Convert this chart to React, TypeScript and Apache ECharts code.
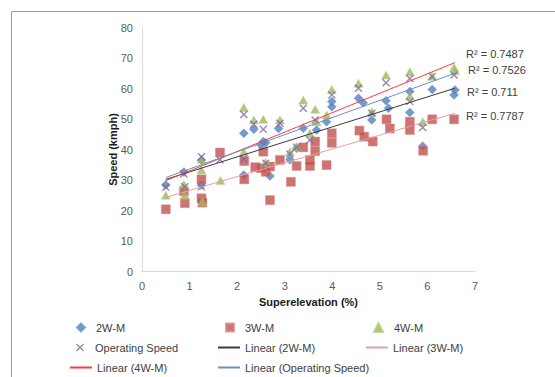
import React, { useEffect, useRef } from "react";
import * as echarts from "echarts";

// ---------- data ----------
const scatterNames = ["2W-M", "3W-M", "4W-M", "Operating Speed"];
const trendNames = ["Linear (2W-M)", "Linear (3W-M)", "Linear (4W-M)", "Linear (Operating Speed)"];

const twoW: number[][] = [
  [0.5, 28.4], [0.88, 32.6], [1.25, 36.5], [1.25, 28.3], [2.14, 45.3], [2.14, 31.6],
  [2.35, 46.6], [2.55, 42.6], [2.5, 41.5], [2.6, 42.2], [2.69, 31.3], [2.87, 46.9],
  [3.11, 36.6], [3.25, 40.4], [3.39, 47.0], [3.67, 46.4], [3.88, 49.1], [3.99, 55.7],
  [3.99, 54.0], [4.55, 56.8], [4.65, 55.3], [4.83, 49.7], [5.13, 56.0], [5.18, 53.5],
  [5.63, 59.0], [5.63, 52.1], [5.9, 41.1], [6.1, 59.7], [6.56, 57.9], [6.58, 59.5],
];
const threeW: number[][] = [
  [0.5, 20.4], [0.88, 26.3], [0.9, 22.4], [1.25, 30.2], [1.25, 24.0], [1.27, 22.6],
  [1.64, 39.0], [2.15, 36.2], [2.15, 30.2], [2.38, 34.2], [2.55, 39.3], [2.5, 33.9],
  [2.6, 32.7], [2.69, 23.4], [2.69, 34.4], [2.9, 36.6], [3.13, 29.4], [3.25, 34.6],
  [3.39, 40.7], [3.53, 36.6], [3.53, 34.6], [3.64, 42.6], [3.64, 39.5], [3.88, 34.9],
  [3.99, 45.3], [3.99, 42.2], [4.57, 46.2], [4.67, 44.2], [4.85, 42.6], [5.14, 49.9],
  [5.21, 46.9], [5.63, 49.1], [5.63, 46.4], [5.91, 39.6], [6.1, 49.9], [6.56, 49.9],
];
const fourW: number[][] = [
  [0.5, 25.0], [0.88, 28.5], [0.9, 25.0], [1.25, 36.8], [1.25, 33.3], [1.27, 22.9],
  [1.65, 29.8], [2.14, 53.8], [2.14, 39.3], [2.35, 49.7], [2.55, 49.9], [2.6, 35.8],
  [2.9, 49.7], [3.11, 39.3], [3.25, 41.0], [3.39, 56.2], [3.53, 45.3], [3.64, 53.2],
  [3.67, 49.1], [3.88, 51.3], [3.99, 59.7], [4.55, 61.7], [4.83, 52.4], [5.13, 64.4],
  [5.63, 65.5], [5.63, 57.5], [5.9, 49.1], [6.1, 64.0], [6.56, 66.9], [6.58, 65.8],
];
const opSpeed: number[][] = [
  [0.5, 27.6], [0.88, 32.0], [0.9, 27.8], [1.25, 37.6], [1.25, 27.8], [1.64, 36.6],
  [2.14, 51.5], [2.14, 36.9], [2.35, 48.3], [2.55, 46.6], [2.6, 35.5], [2.9, 48.6],
  [3.11, 38.5], [3.25, 40.7], [3.39, 53.5], [3.53, 43.1], [3.64, 49.7], [3.99, 57.9],
  [4.55, 60.1], [4.83, 51.9], [5.13, 61.9], [5.63, 63.3], [5.63, 55.7], [5.9, 47.2],
  [6.1, 63.9], [6.56, 64.4],
];

// trend line end points (x from 0.5 to 6.58)
const trend2W: number[][] = [[0.5, 30.2], [6.58, 60.1]];
const trend3W: number[][] = [[0.5, 24.3], [6.58, 51.9]];
const trend4W: number[][] = [[0.5, 29.8], [6.58, 68.5]];
const trendOp: number[][] = [[0.5, 30.8], [6.58, 65.0]];

const r2Labels = ["R² = 0.711", "R² = 0.7787", "R² = 0.7487", "R² = 0.7526"];

// ---------- styles ----------
const FONT = "Liberation Sans";
const TXT = "#404040";
const C2W = "#3a3a3a";
const C3W = "#e8a0a0";
const C4W = "#ff3b3b";
const COP = "#6d8fc8";
const cross =
  "path://M0,1.2 L1.2,0 L5,3.8 L8.8,0 L10,1.2 L6.2,5 L10,8.8 L8.8,10 L5,6.2 L1.2,10 L0,8.8 L3.8,5 Z";

export default function App() {
  const ref = useRef<HTMLDivElement>(null);

  useEffect(() => {
    if (!ref.current) return;
    const chart = echarts.init(ref.current, null, { renderer: "svg" });

    // legend for a marker series: square icon, text pushed right
    const markerLegend = (name: string, left: number, top: number, size: number) => ({
      data: [name],
      left,
      top,
      padding: 0,
      itemWidth: size,
      itemHeight: size,
      selectedMode: false,
      textStyle: { fontFamily: FONT, fontSize: 11, color: TXT, padding: [0, 0, 0, 6] },
    });
    // legend for a trend line: the series' own line icon, its dot hidden
    const lineLegend = (name: string, left: number, top: number) => ({
      data: [name],
      left,
      top,
      padding: 0,
      itemWidth: 22,
      itemHeight: 8,
      itemStyle: { opacity: 0 },
      selectedMode: false,
      textStyle: { fontFamily: FONT, fontSize: 11, color: TXT },
    });

    const trend = (
      name: string,
      data: number[][],
      color: string,
      label: string,
      offset: number[]
    ) => ({
      name,
      type: "line",
      data,
      symbol: "none",
      showSymbol: false,
      lineStyle: { color, width: 1 },
      itemStyle: { color },
      z: 5,
      endLabel: {
        show: true,
        formatter: label,
        offset,
        fontFamily: FONT,
        fontSize: 11,
        color: TXT,
      },
    });

    chart.setOption({
      animation: false,
      backgroundColor: "#ffffff",
      textStyle: { fontFamily: FONT },
      graphic: [
        {
          type: "rect",
          shape: { x: 11.5, y: 11.5, width: 700, height: 500 },
          style: { fill: "none", stroke: "#9a9a9a", lineWidth: 1 },
          silent: true,
        },
      ],
      grid: { left: 142, top: 27.5, width: 333, height: 244 },
      xAxis: {
        type: "value",
        min: 0,
        max: 7,
        interval: 1,
        name: "Superelevation (%)",
        nameLocation: "middle",
        nameGap: 25,
        nameMoveOverlap: false,
        nameTextStyle: { fontFamily: FONT, fontSize: 11, fontWeight: "bold", color: "#1a1a1a" },
        axisLine: { show: true, lineStyle: { color: "#d9d9d9", width: 1 } },
        axisTick: { show: false },
        splitLine: { show: false },
        axisLabel: { fontFamily: FONT, fontSize: 11, color: "#595959", margin: 9 },
      },
      yAxis: {
        type: "value",
        min: 0,
        max: 80,
        interval: 10,
        name: "Speed (kmph)",
        nameLocation: "middle",
        nameGap: 24,
        nameMoveOverlap: false,
        nameTextStyle: { fontFamily: FONT, fontSize: 11, fontWeight: "bold", color: "#1a1a1a" },
        axisLine: { show: true, lineStyle: { color: "#d9d9d9", width: 1 } },
        axisTick: { show: false },
        splitLine: { show: false },
        axisLabel: { fontFamily: FONT, fontSize: 11, color: "#595959", margin: 9 },
      },
      legend: [
        markerLegend(scatterNames[0], 76, 322, 8),
        markerLegend(scatterNames[1], 225, 322, 8),
        markerLegend(scatterNames[2], 373, 322, 9),
        markerLegend(scatterNames[3], 76, 342, 8),
        lineLegend(trendNames[0], 217, 342),
        lineLegend(trendNames[1], 365, 342),
        lineLegend(trendNames[2], 69, 362),
        lineLegend(trendNames[3], 217, 362),
      ],
      series: [
        {
          name: scatterNames[0],
          type: "scatter",
          data: twoW,
          symbol: "diamond",
          symbolSize: 9,
          itemStyle: { color: "#4f81bd", borderColor: "#6d97cc", borderWidth: 0.5 },
          z: 2,
        },
        {
          name: scatterNames[1],
          type: "scatter",
          data: threeW,
          symbol: "rect",
          symbolSize: 9,
          itemStyle: { color: "#c0504d", borderColor: "#d98a88", borderWidth: 0.6 },
          z: 2,
        },
        {
          name: scatterNames[2],
          type: "scatter",
          data: fourW,
          symbol: "triangle",
          symbolSize: [9, 8],
          itemStyle: { color: "#9bbb59", borderColor: "#b3cd7e", borderWidth: 0.5 },
          z: 2,
        },
        {
          name: scatterNames[3],
          type: "scatter",
          data: opSpeed,
          symbol: cross,
          symbolSize: 8,
          itemStyle: { color: "#8064a2" },
          z: 3,
        },
        trend(trendNames[0], trend2W, C2W, r2Labels[0], [4, 4]),
        trend(trendNames[1], trend3W, C3W, r2Labels[1], [3, 3]),
        trend(trendNames[2], trend4W, C4W, r2Labels[2], [3, -9]),
        trend(trendNames[3], trendOp, COP, r2Labels[3], [5, -3]),
      ],
    });

    return () => chart.dispose();
  }, []);

  return (
    <div
      ref={ref}
      style={{ position: "fixed", left: 0, top: 0, width: 555, height: 377, background: "#fff" }}
    />
  );
}
